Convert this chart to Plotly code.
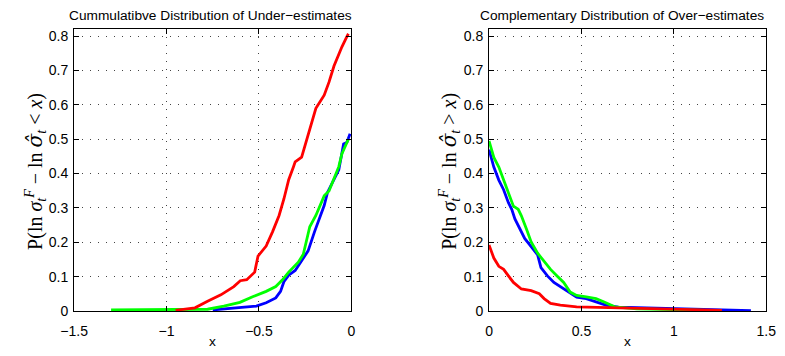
import plotly.graph_objects as go

# ---- data ----
under_red_x = [-0.951, -0.846, -0.778, -0.706, -0.636, -0.601, -0.566, -0.523, -0.505, -0.461, -0.426, -0.391,
               -0.365, -0.339, -0.313, -0.304, -0.269, -0.243, -0.218, -0.192, -0.147, -0.121, -0.094, -0.077,
               -0.051, -0.025, -0.016]
under_red_y = [0.002, 0.009, 0.028, 0.047, 0.071, 0.088, 0.091, 0.113, 0.160, 0.189, 0.231, 0.278,
               0.326, 0.382, 0.420, 0.434, 0.448, 0.496, 0.543, 0.590, 0.628, 0.666, 0.713, 0.737,
               0.769, 0.798, 0.807]
under_green_x = [-1.30, -0.778, -0.69, -0.603, -0.531, -0.461, -0.409, -0.374, -0.339, -0.287, -0.260, -0.243,
                 -0.225, -0.192, -0.147, -0.121, -0.094, -0.068, -0.051, -0.016]
under_green_y = [0.003, 0.005, 0.014, 0.025, 0.042, 0.057, 0.071, 0.090, 0.113, 0.142, 0.165, 0.203,
                 0.245, 0.278, 0.335, 0.349, 0.387, 0.420, 0.458, 0.500]
under_blue_x = [-0.75, -0.603, -0.514, -0.461, -0.409, -0.383, -0.365, -0.339, -0.304, -0.269, -0.234, -0.199,
                -0.173, -0.147, -0.129, -0.103, -0.068, -0.042, -0.025, -0.007]
under_blue_y = [0.003, 0.009, 0.014, 0.024, 0.038, 0.057, 0.085, 0.104, 0.118, 0.146, 0.175, 0.231,
                0.269, 0.307, 0.345, 0.373, 0.411, 0.486, 0.490, 0.516]

over_blue_x = [0, 0.026, 0.053, 0.079, 0.105, 0.123, 0.140, 0.167, 0.193, 0.228, 0.263, 0.281, 0.316, 0.351,
               0.404, 0.439, 0.474, 0.526, 0.579, 0.632, 0.70, 0.9, 1.1, 1.3, 1.417]
over_blue_y = [0.47, 0.419, 0.381, 0.353, 0.315, 0.296, 0.268, 0.239, 0.211, 0.187, 0.163, 0.126, 0.102, 0.083,
               0.064, 0.050, 0.040, 0.036, 0.026, 0.017, 0.011, 0.008, 0.006, 0.004, 0.001]
over_green_x = [0, 0.026, 0.053, 0.079, 0.105, 0.132, 0.158, 0.175, 0.202, 0.228, 0.263, 0.298, 0.333, 0.368,
                0.404, 0.439, 0.474, 0.526, 0.579, 0.623, 0.68, 0.8, 1.0, 1.19]
over_green_y = [0.495, 0.447, 0.419, 0.381, 0.343, 0.305, 0.296, 0.277, 0.239, 0.201, 0.168, 0.145, 0.121, 0.102,
                0.083, 0.055, 0.045, 0.041, 0.036, 0.026, 0.012, 0.006, 0.004, 0.002]
over_red_x = [0, 0.026, 0.053, 0.079, 0.105, 0.132, 0.175, 0.228, 0.272, 0.298, 0.333, 0.386, 0.474, 0.632,
              0.8, 1.05, 1.26]
over_red_y = [0.192, 0.154, 0.130, 0.121, 0.102, 0.083, 0.064, 0.059, 0.050, 0.036, 0.022, 0.017, 0.012, 0.010,
              0.008, 0.005, 0.002]

left_xticks = [-1.5, -1, -0.5, 0]
right_xticks = [0, 0.5, 1, 1.5]
yticks = [0, 0.1, 0.2, 0.3, 0.4, 0.5, 0.6, 0.7, 0.8]

title_left = "Cummulatibve Distribution of Under−estimates"
title_right = "Complementary Distribution of Over−estimates"
hat_sigma = "<span style=\"font-family:'DejaVu Serif'\"><i>σ̂</i></span>"
ylab_left = ("P(ln <i>σ</i><sub><i>t</i></sub><sup><i>F</i></sup> − ln " + hat_sigma +
             "<sub><i>t</i></sub> &lt; <i>x</i>)")
ylab_right = ("P(ln <i>σ</i><sub><i>t</i></sub><sup><i>F</i></sup> − ln " + hat_sigma +
              "<sub><i>t</i></sub> &gt; <i>x</i>)")

W, H = 785, 356
fig = go.Figure()

def add(x, y, color, xa, ya):
    fig.add_trace(go.Scatter(x=x, y=y, mode="lines", line=dict(color=color, width=2.8),
                             xaxis=xa, yaxis=ya, showlegend=False, hoverinfo="skip"))

add(under_blue_x, under_blue_y, "#0000ff", "x", "y")
add(under_green_x, under_green_y, "#00ff00", "x", "y")
add(under_red_x, under_red_y, "#ff0000", "x", "y")
add(over_blue_x, over_blue_y, "#0000ff", "x2", "y2")
add(over_green_x, over_green_y, "#00ff00", "x2", "y2")
add(over_red_x, over_red_y, "#ff0000", "x2", "y2")

tickfont = dict(family="Liberation Sans, Arial, sans-serif", size=14, color="black")
axcommon = dict(showline=True, linecolor="black", linewidth=1, mirror="ticks", ticks="inside",
                ticklen=5, tickcolor="black", showgrid=True, gridcolor="#444444", gridwidth=1,
                griddash="1px,7px", zeroline=False, tickfont=tickfont)

ydom = [1 - 318 / H, 1 - 29 / H]
fig.update_layout(
    width=W, height=H, margin=dict(l=0, r=0, t=0, b=0),
    paper_bgcolor="white", plot_bgcolor="white",
    xaxis=dict(domain=[62 / W, 348 / W], range=[-1.5, 0], tickvals=left_xticks,
               ticktext=["−1.5", "−1", "−0.5", "0"], anchor="y", ticklabelstandoff=7, **axcommon),
    yaxis=dict(domain=ydom, range=[0, 0.82], tickvals=yticks, anchor="x", ticklabelstandoff=2, **axcommon),
    xaxis2=dict(domain=[490 / W, 776 / W], range=[0, 1.5], tickvals=right_xticks,
                ticktext=["0", "0.5", "1", "1.5"], anchor="y2", ticklabelstandoff=7, **axcommon),
    yaxis2=dict(domain=ydom, range=[0, 0.82], tickvals=yticks, anchor="x2", ticklabelstandoff=2, **axcommon),
)

ann_font = dict(family="Liberation Sans, Arial, sans-serif", size=13.7, color="black")
lab_font = dict(family="Liberation Serif, Times New Roman, serif", size=20, color="black")
anns = [
    dict(text=title_left, x=203 / W, y=1 - 15 / H, font=ann_font),
    dict(text=title_right, x=627 / W, y=1 - 15 / H, font=ann_font),
    dict(text="x", x=205 / W, y=1 - 349 / H, font=ann_font),
    dict(text="x", x=633 / W, y=1 - 349 / H, font=ann_font),
    dict(text=ylab_left, x=22 / W, y=1 - 175 / H, font=lab_font, textangle=-90),
    dict(text=ylab_right, x=449 / W, y=1 - 175 / H, font=lab_font, textangle=-90),
]
for a in anns:
    fig.add_annotation(xref="paper", yref="paper", showarrow=False, xanchor="center", yanchor="middle", **a)

fig.write_html("out.html")
